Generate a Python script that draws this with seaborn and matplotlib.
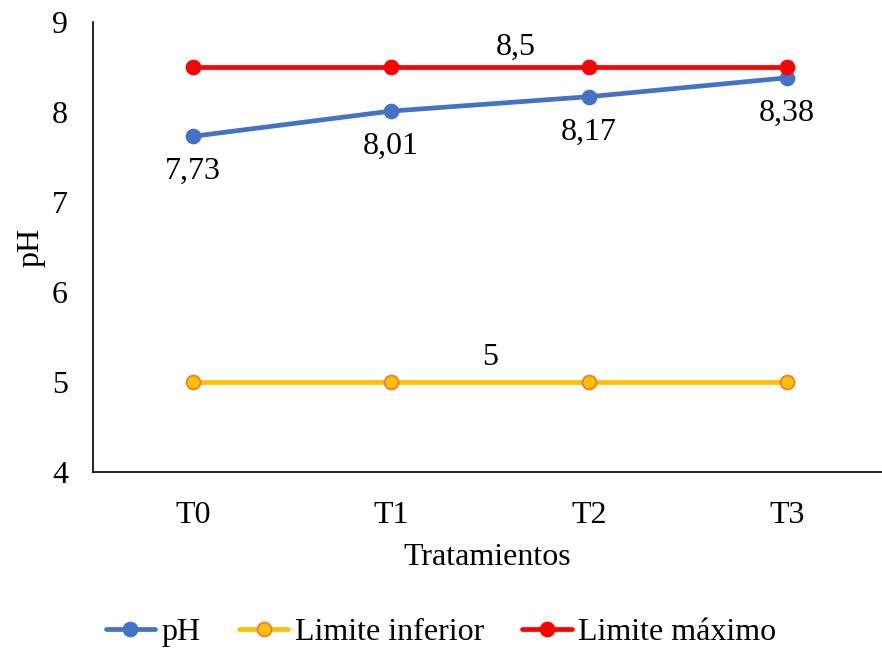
import matplotlib
matplotlib.use("Agg")
import matplotlib.pyplot as plt
import seaborn as sns
import pandas as pd
from matplotlib.lines import Line2D

sns.set_theme(style="white")
plt.rcParams["font.family"] = ["Liberation Serif", "DejaVu Serif"]
plt.rcParams["text.color"] = "black"
plt.rcParams["axes.labelcolor"] = "black"
plt.rcParams["xtick.color"] = "black"
plt.rcParams["ytick.color"] = "black"

tratamientos = ["T0", "T1", "T2", "T3"]
ph_values = [7.73, 8.01, 8.17, 8.38]
limite_inferior = [5, 5, 5, 5]
limite_maximo = [8.5, 8.5, 8.5, 8.5]

series_names = ["pH", "Limite inferior", "Limite máximo"]
colors = {"pH": "#4472C4", "Limite inferior": "#FFC000", "Limite máximo": "#FF0000"}
edge_colors = {"pH": "#4472C4", "Limite inferior": "#ED7D31", "Limite máximo": "#FF0000"}

df = pd.DataFrame({
    "x": list(range(len(tratamientos))) * 3,
    "valor": ph_values + limite_inferior + limite_maximo,
    "serie": [s for s in series_names for _ in tratamientos],
})

FS = 23

fig = plt.figure(figsize=(8.82, 6.48), dpi=100)
ax = fig.add_axes([93 / 882, 176 / 648, (882 - 93) / 882, 450 / 648])

for name in series_names:
    sub = df[df["serie"] == name]
    sns.lineplot(data=sub, x="x", y="valor", ax=ax, color=colors[name],
                 linewidth=3.4, marker="o", markersize=10,
                 markerfacecolor=colors[name], markeredgecolor=edge_colors[name],
                 markeredgewidth=1.3, legend=False)

ax.set_xlim(-0.505, 3.48)
ax.set_ylim(4, 9)
ax.set_xticks(range(len(tratamientos)))
ax.set_xticklabels(tratamientos)
ax.set_yticks([4, 5, 6, 7, 8, 9])
ax.tick_params(axis="x", labelsize=FS, length=0, pad=21)
ax.tick_params(axis="y", labelsize=FS, length=0, pad=18)
for side in ["top", "right"]:
    ax.spines[side].set_visible(False)
for side in ["left", "bottom"]:
    ax.spines[side].set_color("black")
    ax.spines[side].set_linewidth(1.2)

ax.set_xlabel("Tratamientos", fontsize=FS, labelpad=9)
ax.set_ylabel("pH", fontsize=FS, labelpad=5)

# value labels
fmt = lambda v: f"{v:g}".replace(".", ",")
for i, v in enumerate(ph_values):
    ax.annotate(fmt(v), (i, v), xytext=(0, -15), textcoords="offset points",
                ha="center", va="top", fontsize=FS)
ax.annotate(fmt(limite_maximo[1]), (1.63, limite_maximo[1]), xytext=(0, 4),
            textcoords="offset points", ha="center", va="bottom", fontsize=FS)
ax.annotate(fmt(limite_inferior[1]), (1.5, limite_inferior[1]), xytext=(0, 7),
            textcoords="offset points", ha="center", va="bottom", fontsize=FS)

handles = [Line2D([0], [0], color=colors[n], linewidth=3.4, marker="o", markersize=10,
                  markerfacecolor=colors[n], markeredgecolor=edge_colors[n],
                  markeredgewidth=1.3) for n in series_names]
fig.legend(handles, series_names, loc="center", bbox_to_anchor=(0.5, 1 - 632 / 648),
           ncol=3, frameon=False, fontsize=FS, handlelength=1.55, handletextpad=0.2,
           columnspacing=1.2)

fig.savefig("out.png", dpi=100)
